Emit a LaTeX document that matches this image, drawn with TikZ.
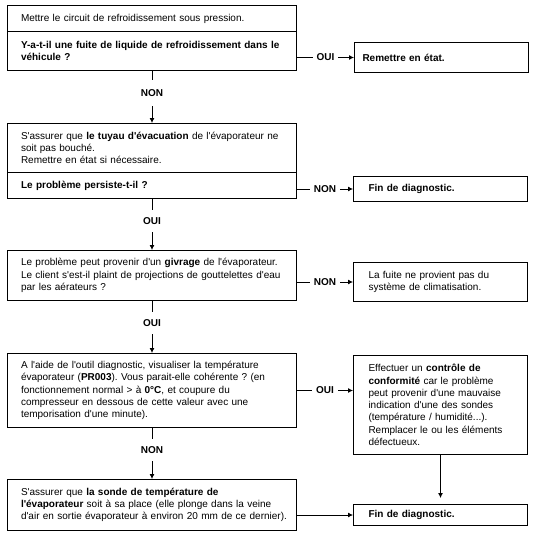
\documentclass[tikz,border=0pt]{standalone}
\usepackage{fontspec}
\newfontfamily\arialf{Liberation Sans}
\usetikzlibrary{arrows.meta}
\begin{document}
\frenchspacing
\begin{tikzpicture}[x=1pt,y=-1pt,
  txt/.style={font=\arialf\fontsize{10}{12.3}\selectfont\frenchspacing},
  box/.style={txt, draw, line width=1pt, anchor=north west, align=left,
    inner ysep=0pt, inner xsep=13.5pt, text width=262pt},
  rbox/.style={txt, draw, line width=1pt, anchor=north west, align=left,
    inner ysep=0pt, inner xsep=15pt, text width=144pt},
  arr/.style={line width=0.8pt, -{Latex[length=5pt,width=5pt]}},
  hlbl/.style={font=\arialf\bfseries\fontsize{10}{12}\selectfont, fill=white, inner xsep=4pt, inner ysep=0pt, minimum height=12pt},
  vlbl/.style={font=\arialf\bfseries\fontsize{10}{12}\selectfont, fill=white, inner xsep=4pt, inner ysep=0pt, minimum height=22pt, pos=.43}]
\useasboundingbox (0,0) rectangle (536,538);
% left column
\node[box, minimum height=26pt] (m1) at (7,5) {Mettre le circuit de refroidissement sous pression.};
\node[box, minimum height=39pt] (q1) at (7,31) {\bfseries Y-a-t-il une fuite de liquide de refroidissement dans le\\ véhicule ?};
\node[box, minimum height=49pt] (b2) at (7,123) {S'assurer que \textbf{le tuyau d'évacuation} de l'évaporateur ne\\ soit pas bouché.\\ Remettre en état si nécessaire.};
\node[box, minimum height=26pt] (q2) at (7,172) {\bfseries Le problème persiste-t-il ?};
\node[box, minimum height=50pt] (b3) at (7,250) {Le problème peut provenir d'un \textbf{givrage} de l'évaporateur.\\ Le client s'est-il plaint de projections de gouttelettes d'eau\\ par les aérateurs ?};
\node[box, minimum height=74pt] (b4) at (7,353) {A l'aide de l'outil diagnostic, visualiser la température\\ évaporateur (\textbf{PR003}). Vous parait-elle cohérente ? (en\\ fonctionnement normal > à \textbf{0°C}, et coupure du\\ compresseur en dessous de cette valeur avec une\\ temporisation d'une minute).};
\node[box, minimum height=51pt] (b5) at (7,479) {S'assurer que \textbf{la sonde de température de}\\ \mbox{\textbf{l'évaporateur} soit à sa place (elle plonge dans la veine}\\ \mbox{d'air en sortie évaporateur à environ 20 mm de ce dernier).}};
% right column
\node[rbox, minimum height=30pt, inner xsep=8pt, text width=158pt] (r1) at (354,42) {\bfseries Remettre en état.};
\node[rbox, minimum height=25pt] (f1) at (353,176) {\bfseries Fin de diagnostic.};
\node[rbox, minimum height=39pt] (lf) at (353,262) {La fuite ne provient pas du\\ système de climatisation.};
\node[rbox, minimum height=99pt] (e) at (353,355) {Effectuer un \textbf{contrôle de}\\ \textbf{conformité} car le problème\\ peut provenir d'une mauvaise\\ indication d'une des sondes\\ (température / humidité...).\\ Remplacer le ou les éléments\\ défectueux.};
\node[rbox, minimum height=21pt] (f2) at (353,504) {\bfseries Fin de diagnostic.};
% connectors
\draw[arr] (q1.south) -- node[vlbl, minimum height=26pt]{NON} (b2.north);
\draw[arr] (q1.east |- r1.west) -- node[hlbl]{OUI} (r1.west);
\draw[arr] (q2.east |- f1.west) -- node[hlbl]{NON} (f1.west);
\draw[arr] (q2.south) -- node[vlbl]{OUI} (b3.north);
\draw[arr] (b3.east |- lf.west) -- node[hlbl]{NON} (lf.west);
\draw[arr] (b3.south) -- node[vlbl]{OUI} (b4.north);
\draw[arr] (b4.east) -- node[hlbl]{OUI} (e.west |- b4.east);
\draw[arr] (b4.south) -- node[vlbl]{NON} (b5.north);
\draw[arr, shorten >=6pt] (e.south) -- (f2.north);
\draw[arr] (b5.east |- f2.west) -- (f2.west);
\end{tikzpicture}
\end{document}
